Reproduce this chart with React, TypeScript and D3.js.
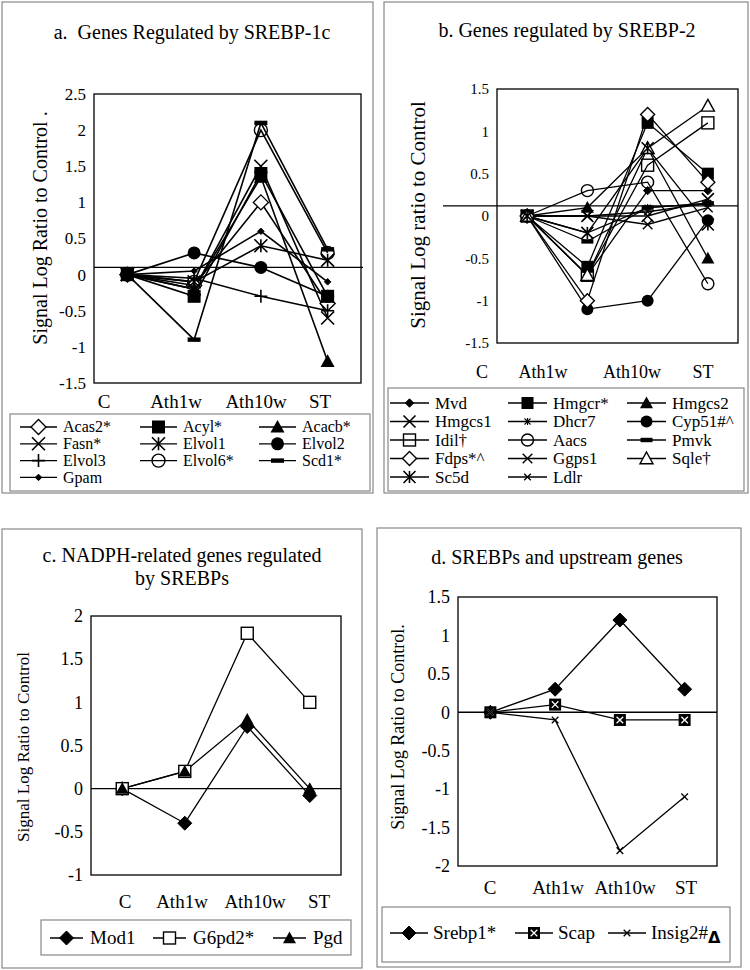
import React from 'react';
import * as d3 from 'd3';

const categories = ['C', 'Ath1w', 'Ath10w', 'ST'];

// Panel a: genes regulated by SREBP-1c
const aNames = ['Acas2*', 'Acyl*', 'Acacb*', 'Fasn*', 'Elvol1', 'Elvol2', 'Elvol3', 'Elvol6*', 'Scd1*', 'Gpam'];
const aMarkers = ['diamondOpen', 'squareFilled', 'triangleFilled', 'x', 'asterisk', 'circleFilled', 'plus', 'circleNoFill', 'dash', 'smallDiamond'];
const aValues = [
  [0, -0.15, 1.0, -0.4],
  [0, -0.3, 1.4, -0.3],
  [0, -0.2, 1.35, -1.2],
  [0, -0.2, 1.5, -0.6],
  [0, -0.1, 0.4, 0.2],
  [0, 0.3, 0.1, -0.3],
  [0, -0.05, -0.3, -0.5],
  [0, -0.1, 2.0, 0.3],
  [0, -0.9, 2.1, 0.35],
  [0, 0.05, 0.6, -0.1],
];
const aTicks = [-1.5, -1, -0.5, 0, 0.5, 1, 1.5, 2, 2.5];

// Panel b: genes regulated by SREBP-2
const bNames = ['Mvd', 'Hmgcr*', 'Hmgcs2', 'Hmgcs1', 'Dhcr7', 'Cyp51#^', 'Idil\u2020', 'Aacs', 'Pmvk', 'Fdps*^', 'Ggps1', 'Sqle\u2020', 'Sc5d', 'Ldlr'];
const bMarkers = ['medDiamond', 'squareFilled', 'triangleFilled', 'x', 'smallAsterisk', 'circleFilled', 'squareNoFill', 'circleNoFill', 'dash', 'diamondOpen', 'xMed', 'triangleOpen', 'asterisk', 'smallX'];
const bValues = [
  [0, -0.7, 0.3, 0.3],
  [0, -0.6, 1.1, 0.5],
  [0, 0.1, 0.8, -0.5],
  [0, 0, 0, 0.2],
  [0, -0.2, 0.1, 0.15],
  [0, -1.1, -1.0, -0.05],
  [0, -0.7, 0.6, 1.1],
  [0, 0.3, 0.4, -0.8],
  [0, -0.3, 0.1, 0.15],
  [0, -1.0, 1.2, 0.4],
  [0, 0, -0.1, 0.1],
  [0, -0.7, 0.8, 1.3],
  [0, -0.2, 0.8, -0.1],
  [0, 0, 0.05, 0.15],
];
const bTicks = [-1.5, -1, -0.5, 0, 0.5, 1, 1.5];

// Panel c: NADPH-related genes
const cNames = ['Mod1', 'G6pd2*', 'Pgd'];
const cMarkers = ['diamondFilled', 'squareOpen', 'triangleFilled'];
const cValues = [
  [0, -0.4, 0.72, -0.08],
  [0, 0.2, 1.8, 1.0],
  [0, 0.2, 0.8, 0.0],
];
const cTicks = [-1, -0.5, 0, 0.5, 1, 1.5, 2];

// Panel d: SREBPs and upstream genes
const dNames = ['Srebp1*', 'Scap', 'Insig2#'];
const dMarkers = ['diamondFilled', 'squareX', 'smallX'];
const dValues = [
  [0, 0.3, 1.2, 0.3],
  [0, 0.1, -0.1, -0.1],
  [0, -0.1, -1.8, -1.1],
];
const dTicks = [-2, -1.5, -1, -0.5, 0, 0.5, 1, 1.5];

const FONT = '"Liberation Serif", "Times New Roman", serif';

function Marker({ type, x, y, s }: { type: string; x: number; y: number; s: number }) {
  const h = s / 2;
  const sw = 1.4;
  const dia = (r: number) => `M${x},${y - r}L${x + r},${y}L${x},${y + r}L${x - r},${y}Z`;
  const tri = (r: number) => `M${x},${y - r}L${x + r},${y + r * 0.8}L${x - r},${y + r * 0.8}Z`;
  const xs = (r: number) => `M${x - r},${y - r}L${x + r},${y + r}M${x - r},${y + r}L${x + r},${y - r}`;
  switch (type) {
    case 'diamondOpen':
      return <path d={dia(h + 1)} fill="#fff" stroke="#000" strokeWidth={sw} />;
    case 'diamondFilled':
      return <path d={dia(h + 1)} fill="#000" stroke="#000" strokeWidth={1} />;
    case 'medDiamond':
      return <path d={dia(h * 0.7)} fill="#000" stroke="#000" strokeWidth={1} />;
    case 'smallDiamond':
      return <path d={dia(h * 0.5)} fill="#000" stroke="#000" strokeWidth={1} />;
    case 'squareFilled':
      return <rect x={x - h} y={y - h} width={s} height={s} fill="#000" />;
    case 'squareOpen':
      return <rect x={x - h} y={y - h} width={s} height={s} fill="#fff" stroke="#000" strokeWidth={sw} />;
    case 'squareNoFill':
      return <rect x={x - h} y={y - h} width={s} height={s} fill="none" stroke="#000" strokeWidth={sw} />;
    case 'squareX':
      return (
        <g>
          <rect x={x - h} y={y - h} width={s} height={s} fill="#000" />
          <path d={xs(h * 0.55)} stroke="#fff" strokeWidth={1.3} />
        </g>
      );
    case 'triangleFilled':
      return <path d={tri(h + 0.5)} fill="#000" />;
    case 'triangleOpen':
      return <path d={tri(h + 0.5)} fill="#fff" stroke="#000" strokeWidth={sw} />;
    case 'circleFilled':
      return <circle cx={x} cy={y} r={h} fill="#000" />;
    case 'circleOpen':
      return <circle cx={x} cy={y} r={h} fill="#fff" stroke="#000" strokeWidth={sw} />;
    case 'circleNoFill':
      return <circle cx={x} cy={y} r={h} fill="none" stroke="#000" strokeWidth={sw} />;
    case 'x':
      return <path d={xs(h)} stroke="#000" strokeWidth={1.6} />;
    case 'xMed':
      return <path d={xs(h * 0.8)} stroke="#000" strokeWidth={1.4} />;
    case 'smallX':
      return <path d={xs(h * 0.55)} stroke="#000" strokeWidth={1.3} />;
    case 'asterisk':
      return <path d={xs(h) + `M${x},${y - h}L${x},${y + h}`} stroke="#000" strokeWidth={1.6} />;
    case 'smallAsterisk':
      return <path d={xs(h * 0.5) + `M${x},${y - h * 0.6}L${x},${y + h * 0.6}`} stroke="#000" strokeWidth={1.1} />;
    case 'plus':
      return <path d={`M${x - h},${y}L${x + h},${y}M${x},${y - h}L${x},${y + h}`} stroke="#000" strokeWidth={1.6} />;
    case 'dash':
      return <rect x={x - h} y={y - 2.2} width={s} height={4.4} fill="#000" />;
    default:
      return null;
  }
}

type PanelCfg = {
  box: [number, number, number, number];
  title: string[];
  titleX: number;
  titleY: number[];
  titleSize: number;
  ytitle: string;
  ytitleX: number;
  ytitleY: number;
  ytitleSize: number;
  plot: { l: number; r: number; t: number; b: number };
  ticks: number[];
  tickSize: number;
  refValue: number;
  refX: [number, number];
  labelX: number[];
  labelY: number;
  labelSize: number;
  names: string[];
  markers: string[];
  values: number[][];
  msize: number;
  lineWidth: number;
  legend: {
    box: [number, number, number, number];
    cols: number[];
    lineLen: number;
    textOff: number;
    rowY: number;
    rowDy: number;
    ncol: number;
    size: number;
  };
};

function Panel({ cfg, delta }: { cfg: PanelCfg; delta?: boolean }) {
  const { plot } = cfg;
  const x = d3.scaleBand<string>().domain(categories).range([plot.l, plot.r]);
  const cx = (c: string) => (x(c) as number) + x.bandwidth() / 2;
  const y = d3
    .scaleLinear()
    .domain([cfg.ticks[0], cfg.ticks[cfg.ticks.length - 1]])
    .range([plot.b, plot.t]);
  const line = d3
    .line<number>()
    .x((_, i) => cx(categories[i]))
    .y((d) => y(d));
  const lg = cfg.legend;
  return (
    <g fontFamily={FONT} fill="#000">
      <rect x={cfg.box[0]} y={cfg.box[1]} width={cfg.box[2]} height={cfg.box[3]} fill="#fff" stroke="#888" strokeWidth={1.2} />
      {cfg.title.map((t, i) => (
        <text key={i} x={cfg.titleX} y={cfg.titleY[i]} textAnchor="middle" fontSize={cfg.titleSize} style={{ whiteSpace: 'pre' }}>
          {t}
        </text>
      ))}
      <text
        transform={`translate(${cfg.ytitleX},${cfg.ytitleY}) rotate(-90)`}
        textAnchor="middle"
        fontSize={cfg.ytitleSize}
      >
        {cfg.ytitle}
      </text>
      <rect x={plot.l} y={plot.t} width={plot.r - plot.l} height={plot.b - plot.t} fill="none" stroke="#000" strokeWidth={1.3} />
      {cfg.ticks.map((t) => (
        <text key={t} x={plot.l - 8} y={y(t)} dy="0.35em" textAnchor="end" fontSize={cfg.tickSize}>
          {String(t)}
        </text>
      ))}
      <line x1={cfg.refX[0]} x2={cfg.refX[1]} y1={y(cfg.refValue)} y2={y(cfg.refValue)} stroke="#000" strokeWidth={1.4} />
      {categories.map((c, i) => (
        <text key={c} x={cfg.labelX[i]} y={cfg.labelY} textAnchor="middle" fontSize={cfg.labelSize}>
          {c}
        </text>
      ))}
      {cfg.values.map((v, i) => (
        <path key={i} d={line(v) || ''} fill="none" stroke="#000" strokeWidth={cfg.lineWidth} />
      ))}
      {cfg.values.map((v, i) => (
        <g key={i}>
          {v.map((d, j) => (
            <Marker key={j} type={cfg.markers[i]} x={cx(categories[j])} y={y(d)} s={cfg.msize} />
          ))}
        </g>
      ))}
      <rect x={lg.box[0]} y={lg.box[1]} width={lg.box[2]} height={lg.box[3]} fill="#fff" stroke="#888" strokeWidth={1.2} />
      {cfg.names.map((n, i) => {
        const col = i % lg.ncol;
        const row = Math.floor(i / lg.ncol);
        const x0 = lg.cols[col];
        const yy = lg.rowY + row * lg.rowDy;
        const isLast = delta && i === cfg.names.length - 1;
        return (
          <g key={n}>
            <line x1={x0} x2={x0 + lg.lineLen} y1={yy} y2={yy} stroke="#000" strokeWidth={1.3} />
            <Marker type={cfg.markers[i]} x={x0 + lg.lineLen / 2} y={yy} s={cfg.msize} />
            <text x={x0 + lg.textOff} y={yy} dy="0.33em" fontSize={lg.size}>
              {n}
              {isLast ? (
                <tspan fontFamily='"DejaVu Sans", sans-serif' fontWeight="bold" fontSize={lg.size * 0.85} dy="4">
                  {'\u0394'}
                </tspan>
              ) : null}
            </text>
          </g>
        );
      })}
    </g>
  );
}

const panelA: PanelCfg = {
  box: [2, 2, 371, 491],
  title: ['a.  Genes Regulated by SREBP-1c'],
  titleX: 192,
  titleY: [39],
  titleSize: 20,
  ytitle: 'Signal Log Ratio to Control .',
  ytitleX: 47,
  ytitleY: 228,
  ytitleSize: 20,
  plot: { l: 94, r: 361, t: 94, b: 383 },
  ticks: aTicks,
  tickSize: 17,
  refValue: 0.1,
  refX: [94, 363],
  labelX: [104, 176, 256, 320],
  labelY: 408,
  labelSize: 19,
  names: aNames,
  markers: aMarkers,
  values: aValues,
  msize: 13,
  lineWidth: 1.6,
  legend: { box: [10, 414, 360, 77], cols: [20, 140, 259], lineLen: 37, textOff: 43, rowY: 427, rowDy: 16.8, ncol: 3, size: 16 },
};

const panelB: PanelCfg = {
  box: [384, 2, 364, 491],
  title: ['b. Genes regulated by SREBP-2'],
  titleX: 567,
  titleY: [37],
  titleSize: 20,
  ytitle: 'Signal Log ratio to Control',
  ytitleX: 425,
  ytitleY: 215,
  ytitleSize: 21,
  plot: { l: 497, r: 738, t: 89, b: 343 },
  ticks: bTicks,
  tickSize: 15,
  refValue: 0.12,
  refX: [443, 738],
  labelX: [482, 543, 632, 703],
  labelY: 378,
  labelSize: 18,
  names: bNames,
  markers: bMarkers,
  values: bValues,
  msize: 12,
  lineWidth: 1.3,
  legend: { box: [388, 388, 356, 103], cols: [390, 508, 627], lineLen: 39, textOff: 45, rowY: 403, rowDy: 18.5, ncol: 3, size: 17 },
};

const panelC: PanelCfg = {
  box: [2, 529, 360, 439],
  title: ['c. NADPH-related genes regulated', 'by SREBPs'],
  titleX: 182,
  titleY: [562, 585],
  titleSize: 20,
  ytitle: 'Signal Log Ratio to Control',
  ytitleX: 29,
  ytitleY: 747,
  ytitleSize: 17,
  plot: { l: 91, r: 341, t: 616, b: 875 },
  ticks: cTicks,
  tickSize: 18,
  refValue: 0,
  refX: [91, 341],
  labelX: [125, 182, 255, 319],
  labelY: 908,
  labelSize: 19,
  names: cNames,
  markers: cMarkers,
  values: cValues,
  msize: 12,
  lineWidth: 1.3,
  legend: { box: [41, 920, 310, 35], cols: [50, 153, 273], lineLen: 33, textOff: 40, rowY: 938, rowDy: 0, ncol: 3, size: 19 },
};

const panelD: PanelCfg = {
  box: [377, 528, 364, 439],
  title: ['d. SREBPs and upstream genes'],
  titleX: 557,
  titleY: [564],
  titleSize: 20,
  ytitle: 'Signal Log Ratio to Control.',
  ytitleX: 404,
  ytitleY: 727,
  ytitleSize: 18,
  plot: { l: 458, r: 717, t: 597, b: 866 },
  ticks: dTicks,
  tickSize: 18,
  refValue: 0,
  refX: [458, 717],
  labelX: [490, 558, 625, 686],
  labelY: 894,
  labelSize: 19,
  names: dNames,
  markers: dMarkers,
  values: dValues,
  msize: 12,
  lineWidth: 1.3,
  legend: { box: [382, 907, 348, 55], cols: [390, 515, 608], lineLen: 38, textOff: 43, rowY: 933, rowDy: 0, ncol: 3, size: 19 },
};

export default function App() {
  return (
    <svg
      width={750}
      height={970}
      viewBox="0 0 750 970"
      style={{ position: 'absolute', left: 0, top: 0, background: '#fff' }}
    >
      <rect x={0} y={0} width={750} height={970} fill="#fff" />
      <Panel cfg={panelA} />
      <Panel cfg={panelB} />
      <Panel cfg={panelC} />
      <Panel cfg={panelD} delta />
    </svg>
  );
}
